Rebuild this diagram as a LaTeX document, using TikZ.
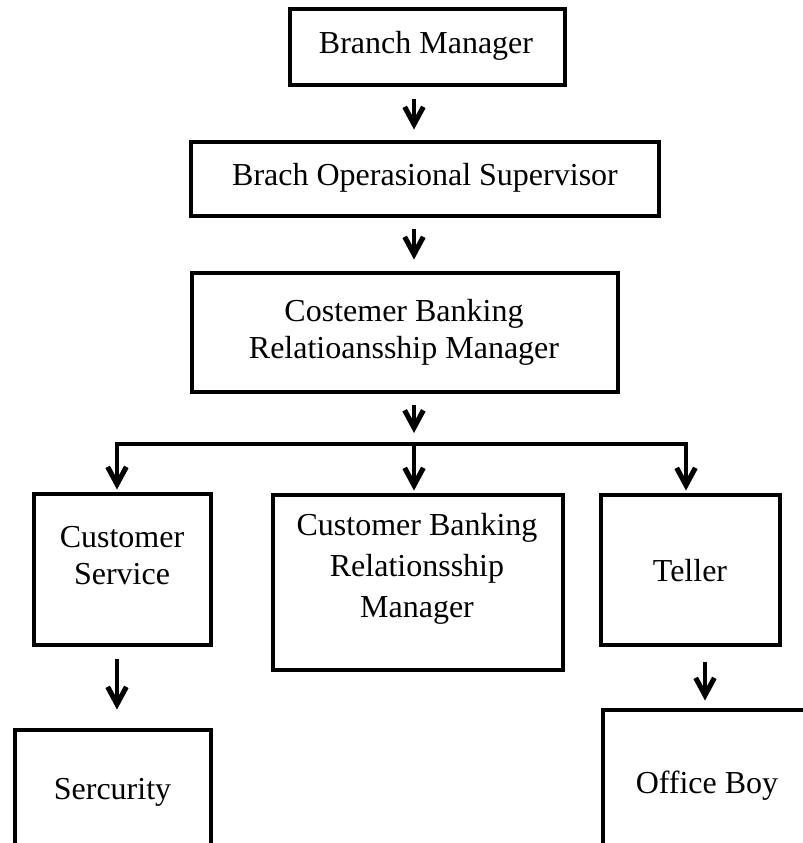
\documentclass[tikz,border=0pt]{standalone}
\usepackage{fontspec}
\setmainfont{Liberation Serif}
\usetikzlibrary{arrows.meta}
\begin{document}
\begin{tikzpicture}[x=0.75pt,y=-0.75pt,
  box/.style={draw=black, line width=3.7pt, line join=miter, inner sep=0pt, minimum width=#1},
  lbl/.style={align=center, inner sep=0pt, font=\fontsize{24}{27.75}\selectfont},
  lblwide/.style={align=center, inner sep=0pt, font=\fontsize{24}{31}\selectfont},
  arr/.style={draw=black, line width=3.2pt, -{Straight Barb[length=13pt,width=14pt,line width=3.8pt]}},
  bus/.style={draw=black, line width=3.2pt, line cap=rect}]
\clip (0,0) rectangle (803,843);
\fill[white] (0,0) rectangle (803,843);
% boxes
\node[box=206.25pt, minimum height=57pt]    (bm)   at (427.5,47)  {};
\node[box=351pt,    minimum height=55.5pt]  (bos)  at (425,179)   {};
\node[box=319.5pt,  minimum height=89.25pt] (cbrm) at (405,332.5) {};
\node[box=132.75pt, minimum height=113.25pt] (cs)  at (122.5,569.5) {};
\node[box=217.5pt,  minimum height=131.25pt] (cbr2) at (418,582.5) {};
\node[box=134.25pt, minimum height=112.5pt] (tel)  at (690.5,570) {};
\node[box=147pt,    minimum height=150pt]   (sec)  at (113,830)   {};
\node[box=180pt,    minimum height=150pt]   (ob)   at (723,810)   {};
% texts
\node[lbl, anchor=base] (bmT)   at (426,53)     {Branch Manager};
\node[lbl, anchor=base] (bosT)  at (425,185)    {Brach Operasional Supervisor};
\node[lbl]              (cbrmT) at (404,332.5)  {Costemer Banking\\Relatioansship Manager};
\node[lbl]              (csT)   at (122,555.5)  {Customer\\Service};
\node[lblwide]          (cbr2T) at (417,569)    {Customer Banking\\Relationsship\\Manager};
\node[lbl, anchor=base] (telT)  at (690,581)    {Teller};
\node[lbl, anchor=base] (secT)  at (112.5,799)  {Sercurity};
\node[lbl, anchor=base] (obT)   at (707,793)    {Office Boy};
% connector coordinates
\coordinate (spine) at (414,0);
\coordinate (busL) at (117,444);
\coordinate (busM) at (414,444);
\coordinate (busR) at (686,444);
\coordinate (obx) at (705,0);
% connectors
\draw[arr, shorten <=9pt, shorten >=7.5pt] (bm.south -| spine) -- (bos.north -| spine);
\draw[arr, shorten <=8.25pt, shorten >=8.25pt] (bos.south -| spine) -- (cbrm.north -| spine);
\draw[arr, shorten <=8.25pt, shorten >=8.25pt] (cbrm.south -| spine) -- (busM);
\draw[bus] (busL) -- (busR);
\draw[arr, shorten >=1.5pt] (busL) -- (cs.north -| busL);
\draw[arr, shorten >=1.5pt] (busM) -- (cbr2.north -| busM);
\draw[arr, shorten >=1.5pt] (busR) -- (tel.north -| busR);
\draw[arr, shorten <=9pt, shorten >=13.5pt] (cs.south -| busL) -- (sec.north -| busL);
\draw[arr, shorten <=11.25pt, shorten >=5.25pt] (tel.south -| obx) -- (ob.north -| obx);
\end{tikzpicture}
\end{document}
